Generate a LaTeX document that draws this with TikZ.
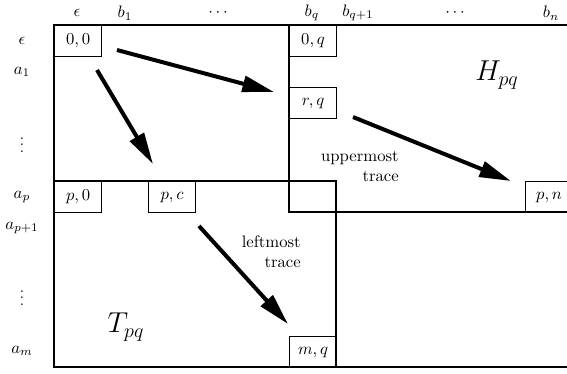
\documentclass[tikz,border=0pt]{standalone}
\usepackage{tikz}
\usetikzlibrary{arrows.meta,positioning}
\tikzset{
  cellbox/.style={rectangle, draw=black, line width=0.7pt, anchor=north west,
    minimum width=28.2pt, minimum height=18.6pt, inner sep=1pt},
  gridline/.style={draw=black, line width=0.7pt},
  idxlabel/.style={inner sep=1pt},
  dotslabel/.style={inner sep=0pt, font=\small},
  tracearrow/.style={-{Triangle[length=19pt,width=9.5pt]}, draw=black, line width=2.4pt},
  tracelabel/.style={align=right, anchor=east, inner sep=0pt, font=\normalsize},
  regionlabel/.style={font=\LARGE, inner sep=1pt},
}

\begin{document}
\begin{tikzpicture}[x=0.6pt,y=-0.6pt]
  \useasboundingbox (0,0) rectangle (567,373);

  % column indices
  \node[idxlabel] (ceps) at (77,13) {$\epsilon$};
  \node[idxlabel] (cb1) at (125,13) {$b_1$};
  \node[idxlabel] (cdots1) at (218,13) {$\cdots$};
  \node[idxlabel] (cbq) at (312,13) {$b_q$};
  \node[idxlabel] (cbq1) at (358,13) {$b_{q+1}$};
  \node[idxlabel] (cdots2) at (455,13) {$\cdots$};
  \node[idxlabel] (cbn) at (551,13) {$b_n$};

  % row indices
  \node[idxlabel] (reps) at (22,41) {$\epsilon$};
  \node[idxlabel] (ra1) at (22,72) {$a_1$};
  \node[dotslabel] (rdots1) at (22,140) {$\vdots$};
  \node[idxlabel] (rap) at (22,197) {$a_p$};
  \node[idxlabel] (rap1) at (22,228) {$a_{p+1}$};
  \node[dotslabel] (rdots2) at (22,293) {$\vdots$};
  \node[idxlabel] (ram) at (22,351) {$a_m$};

  % outer frame and the two regions
  \draw[gridline] (575,25) -- (54,25) -- (54,367) -- (575,367);
  \draw[gridline] (289,25) -- (289,212) -- (575,212);
  \draw[gridline] (54,181) -- (336,181) -- (336,367);

  % cells
  \node[cellbox] (c00) at (54,25) {$0,0$};
  \node[cellbox] (c0q) at (289,25) {$0,q$};
  \node[cellbox] (crq) at (289,87) {$r,q$};
  \node[cellbox] (cp0) at (54,181) {$p,0$};
  \node[cellbox] (cpc) at (148,181) {$p,c$};
  \node[cellbox] (cpq) at (289,181) {};
  \node[cellbox] (cpn) at (525,181) {$p,n$};
  \node[cellbox] (cmq) at (289,336) {$m,q$};

  % region names
  \node[regionlabel] (hpq) at (497,75) {$H_{pq}$};
  \node[regionlabel] (tpq) at (126,327) {$T_{pq}$};

  % traces
  \node[tracelabel] (upper) at (399,166) {uppermost\\trace};
  \node[tracelabel] (left) at (301,252) {leftmost\\trace};

  \coordinate (a1s) at (117,50);  \coordinate (a1e) at (274,92);
  \coordinate (a2s) at (97,70);   \coordinate (a2e) at (153,164);
  \coordinate (a3s) at (353,117); \coordinate (a3e) at (511,181);
  \coordinate (a4s) at (199,226); \coordinate (a4e) at (288,324);
  \draw[tracearrow] (a1s) -- (a1e);
  \draw[tracearrow] (a2s) -- (a2e);
  \draw[tracearrow] (a3s) -- (a3e);
  \draw[tracearrow] (a4s) -- (a4e);
\end{tikzpicture}
\end{document}
